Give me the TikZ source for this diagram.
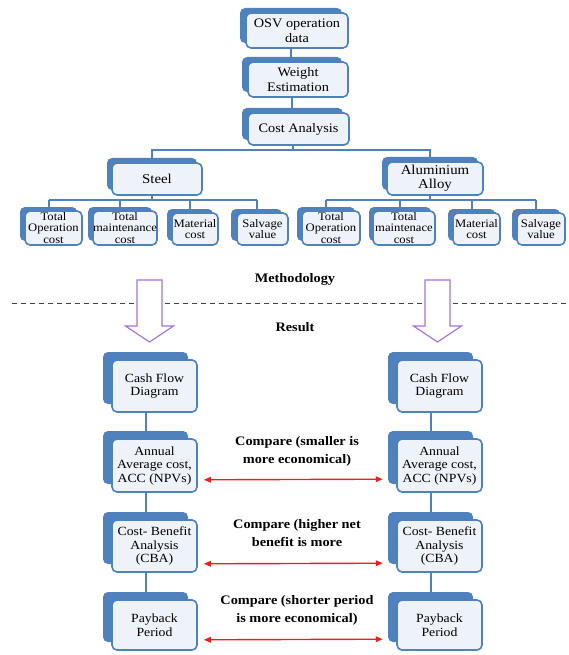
\documentclass[tikz,border=0pt]{standalone}
\usepackage{fontspec}
\setmainfont[FakeStretch=1.1]{Liberation Serif}
\usetikzlibrary{calc,backgrounds,arrows.meta}
\definecolor{accent}{HTML}{4F81BD}
\definecolor{boxfill}{HTML}{EEF2F9}
\definecolor{arrowpurple}{HTML}{A574D6}
\definecolor{cmpred}{HTML}{EE1C1C}
\tikzset{
  backbox/.style={fill=accent, draw=none, rounded corners=5pt, inner sep=0pt},
  frontbox/.style={fill=boxfill, draw=accent, line width=1.6pt, rounded corners=5pt, inner sep=0pt, align=center},
  conn/.style={draw=accent, line width=2pt},
  hollow/.style={draw=arrowpurple, line width=1.2pt, fill=white, line join=miter},
  dashline/.style={draw=black!75, line width=1pt, dash pattern=on 5pt off 4pt},
  cmparrow/.style={draw=cmpred, line width=1.4pt, {Triangle[length=7pt,width=5.5pt]}-{Triangle[length=7pt,width=5.5pt]}},
  cmplabel/.style={font=\fontsize{13}{18}\selectfont\bfseries, align=center, inner sep=0pt},
  seclabel/.style={font=\fontsize{13}{15}\selectfont\bfseries, inner sep=0pt}
}
% #1 name, #2 cx, #3 cy, #4 w, #5 h, #6 dx, #7 dy, #8 font, #9 text
\newcommand\obox[9]{%
  \node[backbox, minimum width=#4pt, minimum height=#5pt] (#1-b) at (#2-#6,#3-#7) {};
  \node[frontbox, minimum width=#4pt, minimum height=#5pt, font=#8] (#1) at (#2,#3) {#9};
}
\begin{document}
\begin{tikzpicture}[x=1pt,y=-1pt]
\useasboundingbox (0,0) rectangle (568,655);
% top chain
\obox{osv}{297}{30.5}{102}{35}{6}{5}{\fontsize{13}{15}\selectfont}{OSV operation\\data}
\obox{wt}{298}{79.5}{100}{35}{6}{5}{\fontsize{13}{15}\selectfont}{Weight\\Estimation}
\obox{ca}{298.5}{129}{101}{32}{6}{5}{\fontsize{13}{15}\selectfont}{Cost Analysis}
\obox{steel}{157}{179}{90}{32}{5}{5}{\fontsize{13.5}{14}\selectfont}{Steel}
\obox{alu}{435}{178.5}{96}{33}{5}{5}{\fontsize{13.5}{14}\selectfont}{Aluminium\\Alloy}
% children
\def\cfnt{\fontsize{11.5}{11.5}\selectfont}
\obox{l1}{53.5}{228}{57}{34}{5}{4}{\cfnt}{Total\\Operation\\cost}
\obox{l2}{125}{228}{64}{34}{5}{4}{\cfnt}{Total\\maintenance\\cost}
\obox{l3}{195}{229}{46}{32}{5}{4}{\cfnt}{Material\\cost}
\obox{l4}{262.5}{229}{51}{32}{6}{4}{\cfnt}{Salvage\\value}
\obox{r1}{331}{228}{58}{34}{5}{4}{\cfnt}{Total\\Operation\\cost}
\obox{r2}{404}{228}{62}{34}{4}{4}{\cfnt}{Total\\maintenace\\cost}
\obox{r3}{476.5}{229}{47}{32}{5}{4}{\cfnt}{Material\\cost}
\obox{r4}{541}{229}{48}{32}{5}{4}{\cfnt}{Salvage\\value}
% result columns
\def\bxf{\fontsize{12.5}{13.5}\selectfont}
\obox{lcf}{154.5}{386}{85}{52}{9}{8}{\bxf}{Cash Flow\\Diagram}
\obox{lacc}{154.5}{465.5}{85}{53}{9}{8}{\bxf}{Annual\\Average cost,\\ACC (NPVs)}
\obox{lcba}{154.5}{546}{85}{52}{9}{8}{\bxf}{Cost- Benefit\\Analysis\\(CBA)}
\obox{lpb}{154.5}{625}{85}{50}{9}{8}{\bxf}{Payback\\Period}
\obox{rcf}{439.5}{386}{85}{52}{9}{8}{\bxf}{Cash Flow\\Diagram}
\obox{racc}{439.5}{465.5}{85}{53}{9}{8}{\bxf}{Annual\\Average cost,\\ACC (NPVs)}
\obox{rcba}{439.5}{546}{85}{52}{9}{8}{\bxf}{Cost- Benefit\\Analysis\\(CBA)}
\obox{rpb}{439.5}{625}{85}{50}{9}{8}{\bxf}{Payback\\Period}
% tree connectors
\coordinate (bus1) at (0,150);
\coordinate (bus2) at (0,200);
\begin{scope}[on background layer]
\draw[conn] (ca-b.center) -- (ca-b.center |- bus1);
\draw[conn] (steel-b.center) -- (steel-b.center |- bus1) -- (alu-b.center |- bus1) -- (alu-b.center);
\draw[conn] (steel-b.center) -- (steel-b.center |- bus2);
\draw[conn] (l1-b.center |- bus2) -- (l4-b.center |- bus2);
\foreach \n in {l1,l2,l3,l4}{\draw[conn] (\n-b.center |- bus2) -- (\n-b.center);}
\draw[conn] (alu-b.center) -- (alu-b.center |- bus2);
\draw[conn] (r1-b.center |- bus2) -- (r4-b.center |- bus2);
\foreach \n in {r1,r2,r3,r4}{\draw[conn] (\n-b.center |- bus2) -- (\n-b.center);}
\end{scope}
% chain connectors, drawn on top in the gaps between stacked boxes
\foreach \a/\b in {osv/wt, wt/ca, lcf/lacc, lacc/lcba, lcba/lpb, rcf/racc, racc/rcba, rcba/rpb}{
  \draw[conn] (\a-b.center |- \a.south) -- (\a-b.center |- \b-b.north);
}
% methodology / result
\node[seclabel] (meth) at (295,279) {Methodology};
\coordinate (dl) at (12,303);
\coordinate (dr) at (566,303);
\draw[dashline] (dl) -- (dr);
\node[seclabel] (res) at (295,327) {Result};
\draw[hollow] (137,280) -- (162,280) -- (162,326) -- (173.5,326) -- (149.5,342) -- (125.5,326) -- (137,326) -- cycle;
\draw[hollow] (425,280) -- (450,280) -- (450,326) -- (461.5,326) -- (437.5,342) -- (413.5,326) -- (425,326) -- cycle;
% compare labels and arrows
\node[cmplabel] (c1) at (297,451) {Compare (smaller is\\more economical)};
\node[cmplabel] (c2) at (297,533) {Compare (higher net\\benefit is more};
\node[cmplabel] (c3) at (297,610) {Compare (shorter period\\is more economical)};
\draw[cmparrow] ($(lacc.south east)+(6,-13)$) -- ($(racc-b.south west)+(-5,-5)$);
\draw[cmparrow] ($(lcba.south east)+(6,-9)$) -- ($(rcba-b.south west)+(-5,-1)$);
\draw[cmparrow] ($(lpb.south east)+(6,-11)$) -- ($(rpb-b.south west)+(-5,-3)$);
\end{tikzpicture}
\end{document}
